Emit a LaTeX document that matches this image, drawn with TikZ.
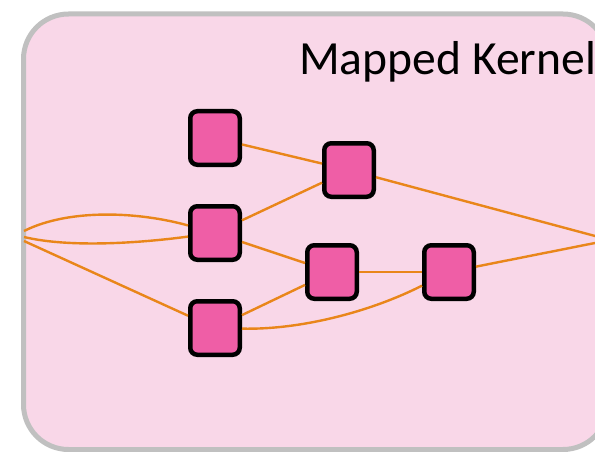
\documentclass[tikz,border=0pt]{standalone}
\usepackage{fontspec}
\setmainfont{Carlito}
\definecolor{panelfill}{RGB}{249,215,232}
\definecolor{panelline}{RGB}{192,192,192}
\definecolor{opfill}{RGB}{239,94,166}
\definecolor{edgecol}{RGB}{233,134,26}
\tikzset{
  opbox/.style={draw=black, line width=4.5pt, fill=opfill, rounded corners=7pt,
    minimum width=49.5pt, minimum height=53.5pt, inner sep=0pt},
  flow/.style={draw=edgecol, line width=2.4pt},
}
\begin{document}
\begin{tikzpicture}[x=1pt, y=-1pt]
  \useasboundingbox (0,0) rectangle (595,452);
  \clip (0,0) rectangle (595,452);
  % kernel panel
  \draw[draw=panelline, fill=panelfill, line width=5pt, rounded corners=45pt]
    (23.5,14) rectangle (608,449.5);
  \node[anchor=base west, inner sep=0pt, font=\fontsize{47.6}{52}\selectfont]
    (title) at (299,75) {Mapped Kernel};
  % boundary ports
  \coordinate (inA) at (24,231);
  \coordinate (inB) at (24,237);
  \coordinate (inC) at (24,241);
  \coordinate (out) at (610,240);
  % operators
  \node[opbox] (n1) at (215,138) {};
  \node[opbox] (n2) at (215,233) {};
  \node[opbox] (n3) at (215,328) {};
  \node[opbox] (n4) at (349,170) {};
  \node[opbox] (n5) at (332,272) {};
  \node[opbox] (n6) at (449,272) {};
  % data flow
  \path[flow] (inA) .. controls (70,208) and (140,212) .. (n2);
  \path[flow] (inB) .. controls (70,248) and (140,243) .. (n2);
  \path[flow] (inC) -- (n3);
  \path[flow] (n1) -- (n4);
  \path[flow] (n2) -- (n4);
  \path[flow] (n2) -- (n5);
  \path[flow] (n3) -- (n5);
  \path[flow] (n3) .. controls (300,330) and (370,312) .. (n6);
  \path[flow] (n5) -- (n6);
  \path[flow] (n4) -- (out);
  \path[flow] (n6) -- (out);
\end{tikzpicture}
\end{document}
